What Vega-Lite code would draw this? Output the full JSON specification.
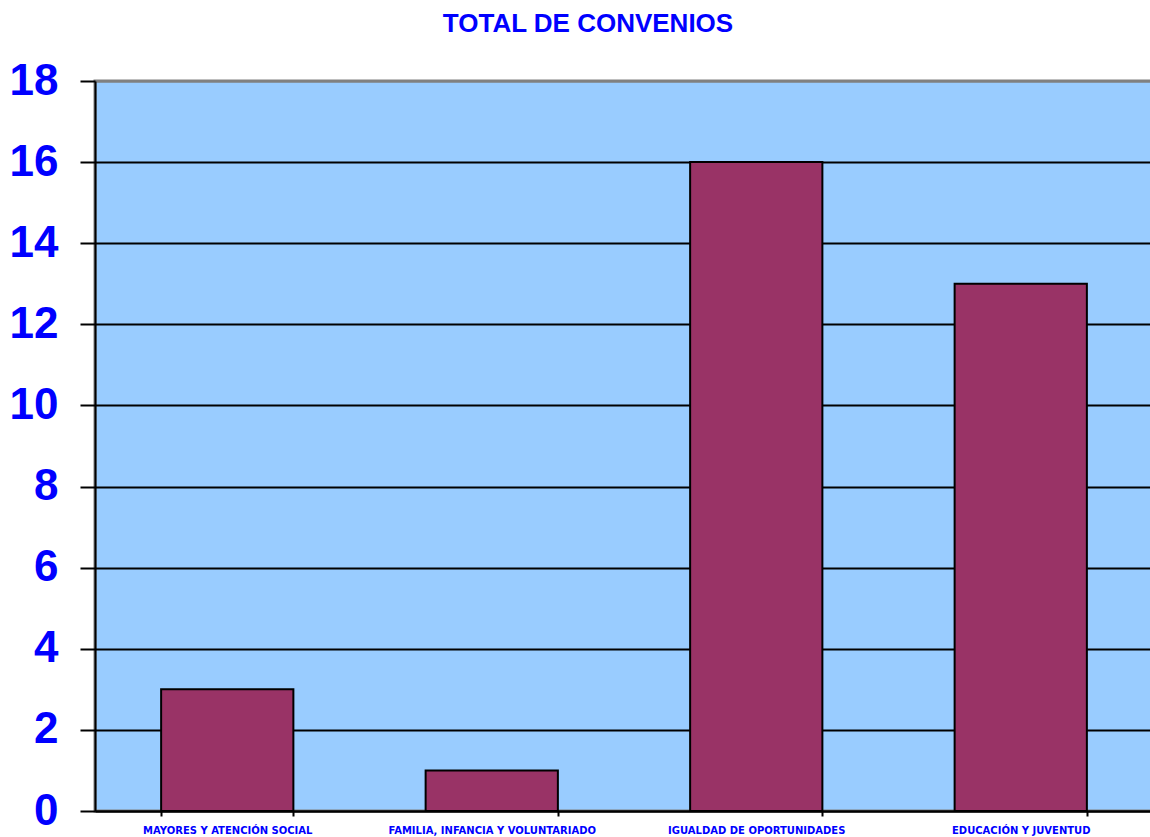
{
  "$schema": "https://vega.github.io/schema/vega-lite/v6.json",
  "autosize": "none",
  "width": 1058,
  "height": 730,
  "padding": {"left": 95, "top": 81, "right": 0, "bottom": 26},
  "background": "white",
  "title": {
    "text": "TOTAL DE CONVENIOS",
    "font": "Liberation Sans",
    "fontSize": 26,
    "fontWeight": "bold",
    "color": "#0000FF",
    "anchor": "middle",
    "dx": -36,
    "offset": 22
  },
  "config": {
    "view": {"fill": "#99CCFF", "stroke": "#808080", "strokeWidth": 3}
  },
  "data": {
    "values": [
      {"area": "MAYORES Y ATENCIÓN SOCIAL", "convenios": 3},
      {"area": "FAMILIA, INFANCIA Y VOLUNTARIADO", "convenios": 1},
      {"area": "IGUALDAD DE OPORTUNIDADES", "convenios": 16},
      {"area": "EDUCACIÓN Y JUVENTUD", "convenios": 13}
    ]
  },
  "mark": {"type": "bar", "color": "#993366", "stroke": "black", "strokeWidth": 2},
  "encoding": {
    "x": {
      "field": "area",
      "type": "nominal",
      "sort": null,
      "scale": {"paddingInner": 0.5, "paddingOuter": 0.25},
      "axis": {
        "title": null,
        "labelAngle": 0,
        "labelFont": "DejaVu Sans",
        "labelFontSize": 10,
        "labelFontWeight": "bold",
        "labelColor": "#0000FF",
        "labelPadding": 9,
        "labelLimit": 0,
        "domainColor": "black",
        "domainWidth": 2,
        "tickColor": "black",
        "tickWidth": 2,
        "tickSize": 5,
        "tickBand": "extent",
        "grid": false
      }
    },
    "y": {
      "field": "convenios",
      "type": "quantitative",
      "scale": {"domain": [0, 18], "nice": false},
      "axis": {
        "title": null,
        "values": [0, 2, 4, 6, 8, 10, 12, 14, 16, 18],
        "labelFont": "Liberation Sans",
        "labelFontSize": 44,
        "labelFontWeight": "bold",
        "labelColor": "#0000FF",
        "labelPadding": 22,
        "domainColor": "black",
        "domainWidth": 2,
        "tickColor": "black",
        "tickWidth": 2,
        "tickSize": 15,
        "grid": true,
        "gridColor": {"condition": {"test": "datum.value == 18", "value": "#808080"}, "value": "black"},
        "gridWidth": 2,
        "gridOpacity": 1
      }
    }
  }
}
